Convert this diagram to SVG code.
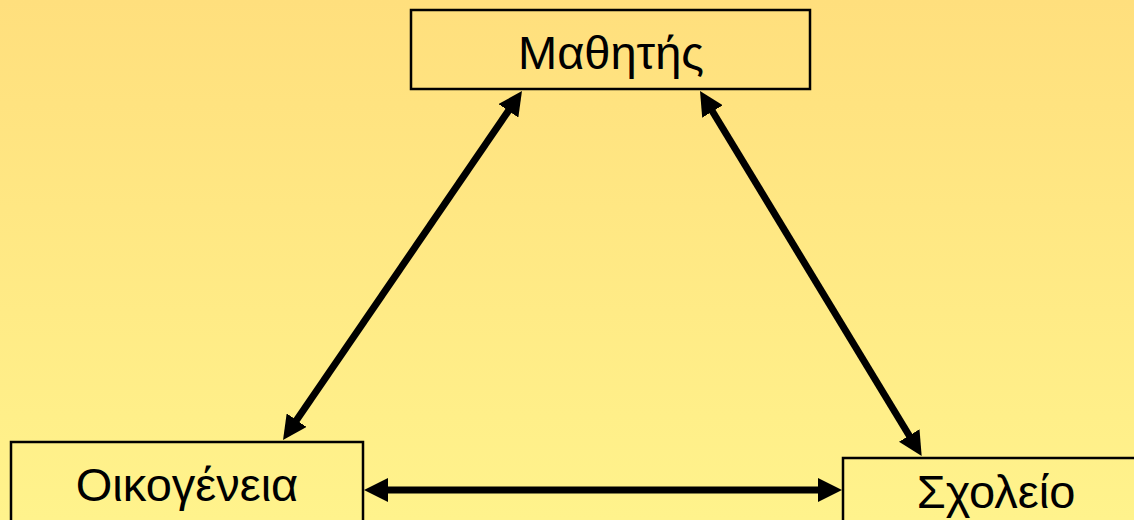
<svg xmlns="http://www.w3.org/2000/svg" width="1134" height="520" viewBox="0 0 1134 520">
  <defs>
    <linearGradient id="bg" x1="0" y1="0" x2="0" y2="1">
      <stop offset="0" stop-color="#FFDF7D"/>
      <stop offset="1" stop-color="#FFF38C"/>
    </linearGradient>
    <marker id="head" viewBox="0 0 24 24" refX="9" refY="12" markerWidth="24" markerHeight="24" markerUnits="userSpaceOnUse" orient="auto-start-reverse">
      <path d="M0,0 L24,12 L0,24 z" fill="#000"/>
    </marker>
  </defs>
  <style>
    .box { fill: none; stroke: #000; stroke-width: 2.5; }
    .lbl { font-family: "Liberation Sans", Arial, sans-serif; font-size: 47px; fill: #000; text-anchor: middle; }
    .conn { stroke: #000; stroke-width: 7; fill: none; marker-start: url(#head); marker-end: url(#head); }
  </style>
  <rect x="0" y="0" width="1134" height="520" fill="url(#bg)"/>
  <g id="node-mathitis">
    <rect class="box" x="411" y="10" width="399" height="79"/>
    <text class="lbl" x="611" y="69">Μαθητής</text>
  </g>
  <g id="node-oikogeneia">
    <rect class="box" x="11" y="442" width="352" height="100"/>
    <text class="lbl" x="187" y="501">Οικογένεια</text>
  </g>
  <g id="node-scholeio">
    <rect class="box" x="843" y="458" width="320" height="100"/>
    <text class="lbl" x="996" y="508">Σχολείο</text>
  </g>
  <g id="connectors">
    <line class="conn" x1="513.5" y1="103.4" x2="291.5" y2="427.6"/>
    <line class="conn" x1="707.8" y1="103.8" x2="913.9" y2="443.2"/>
    <line class="conn" x1="379" y1="490" x2="827" y2="490"/>
  </g>
</svg>
